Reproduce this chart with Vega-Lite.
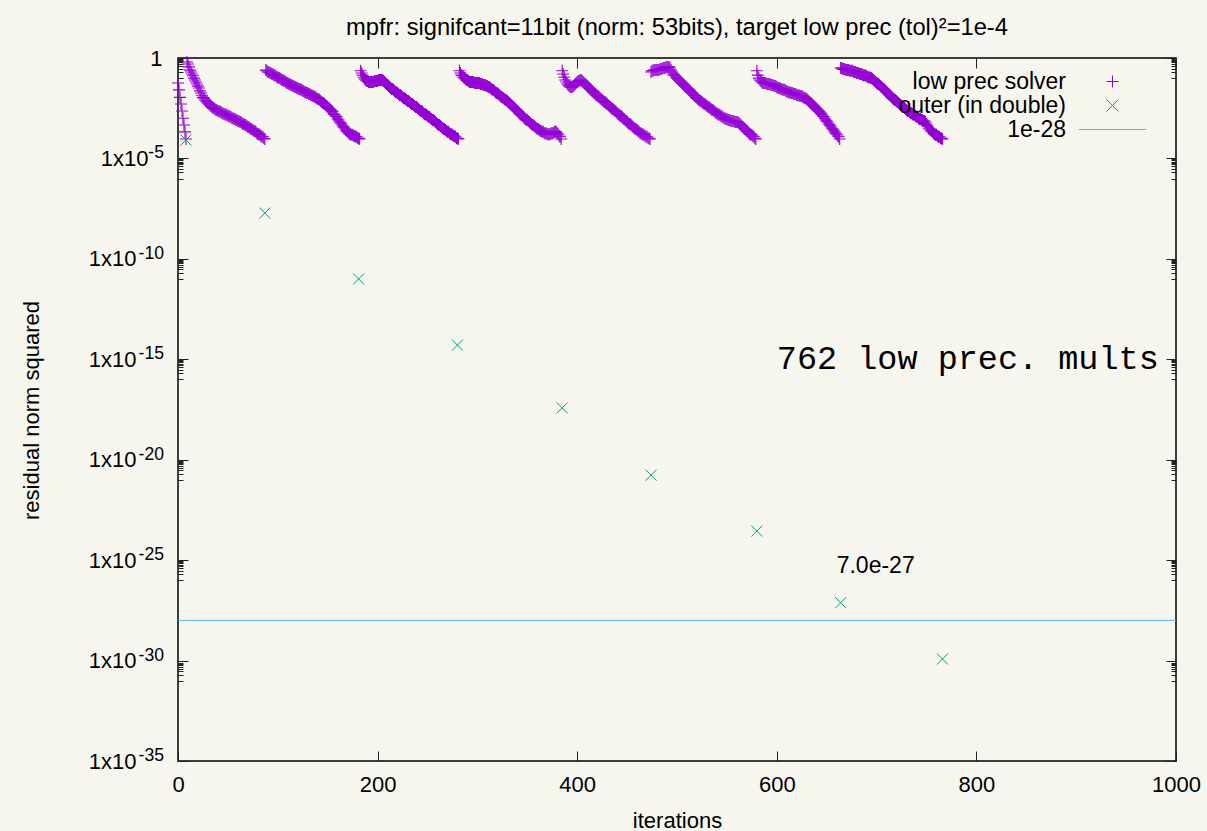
{
  "$schema": "https://vega.github.io/schema/vega-lite/v6.json",
  "autosize": {"type": "none"},
  "width": 998,
  "height": 703,
  "padding": {"left": 178, "top": 58, "right": 31, "bottom": 70},
  "background": "#f7f6ee",
  "config": {
    "view": {"stroke": "#000000", "strokeWidth": 1.5},
    "font": "Liberation Sans",
    "axis": {
      "grid": false,
      "domain": false,
      "labelFont": "Liberation Sans",
      "labelColor": "#000000",
      "labelFontSize": 22,
      "tickColor": "#222222",
      "tickWidth": 1,
      "titleFont": "Liberation Sans",
      "titleFontWeight": "normal",
      "titleFontSize": 22,
      "titleColor": "#000000"
    }
  },
  "title": {
    "text": "mpfr: signifcant=11bit (norm: 53bits), target low prec (tol)²=1e-4",
    "frame": "group",
    "anchor": "middle",
    "baseline": "alphabetic",
    "offset": -12,
    "fontSize": 23.7,
    "fontWeight": "normal",
    "font": "Liberation Sans",
    "color": "#000000"
  },
  "datasets": {
    "inner": [
      {"i":0,"r":0.057},{"i":1,"r":0.026},{"i":2,"r":0.011},{"i":3,"r":0.0051},{"i":4,"r":0.0023},{"i":5,"r":0.001},{"i":6,"r":0.00046},{"i":7,"r":0.00021},{"i":8,"r":9.3e-5},
      {"i":9,"r":0.63},{"i":10,"r":0.5},{"i":11,"r":0.36},{"i":12,"r":0.25},{"i":13,"r":0.2},{"i":14,"r":0.16},{"i":15,"r":0.13},{"i":16,"r":0.1},{"i":17,"r":0.08},{"i":18,"r":0.064},{"i":19,"r":0.051},{"i":20,"r":0.04},{"i":21,"r":0.032},{"i":22,"r":0.023},{"i":23,"r":0.018},{"i":24,"r":0.014},{"i":25,"r":0.011},{"i":26,"r":0.01},{"i":27,"r":0.0081},{"i":28,"r":0.0072},{"i":29,"r":0.0065},{"i":30,"r":0.0058},{"i":31,"r":0.0051},{"i":32,"r":0.0046},{"i":33,"r":0.0041},{"i":34,"r":0.0036},{"i":35,"r":0.0032},{"i":36,"r":0.0032},{"i":37,"r":0.0029},{"i":38,"r":0.0026},{"i":39,"r":0.0026},{"i":40,"r":0.0023},{"i":41,"r":0.0023},{"i":42,"r":0.0021},{"i":43,"r":0.0021},{"i":44,"r":0.0018},{"i":45,"r":0.0018},{"i":46,"r":0.0016},{"i":47,"r":0.0016},{"i":48,"r":0.0015},{"i":49,"r":0.0015},{"i":50,"r":0.0013},{"i":51,"r":0.0013},{"i":52,"r":0.0012},{"i":53,"r":0.0012},{"i":54,"r":0.001},{"i":55,"r":0.001},{"i":56,"r":0.00092},{"i":57,"r":0.00092},{"i":58,"r":0.00082},{"i":59,"r":0.00082},{"i":60,"r":0.00073},{"i":61,"r":0.00073},{"i":62,"r":0.00065},{"i":63,"r":0.00065},{"i":64,"r":0.00058},{"i":65,"r":0.00052},{"i":66,"r":0.00052},{"i":67,"r":0.00046},{"i":68,"r":0.00046},{"i":69,"r":0.00041},{"i":70,"r":0.00037},{"i":71,"r":0.00037},{"i":72,"r":0.00033},{"i":73,"r":0.00029},{"i":74,"r":0.00029},{"i":75,"r":0.00026},{"i":76,"r":0.00023},{"i":77,"r":0.00023},{"i":78,"r":0.00021},{"i":79,"r":0.00018},{"i":80,"r":0.00016},{"i":81,"r":0.00016},{"i":82,"r":0.00015},{"i":83,"r":0.00013},{"i":84,"r":0.00012},{"i":85,"r":0.00012},{"i":86,"r":0.0001},{"i":87,"r":9.3e-5},
      {"i":88,"r":0.25},{"i":89,"r":0.23},{"i":90,"r":0.2},{"i":91,"r":0.2},{"i":92,"r":0.18},{"i":93,"r":0.18},{"i":94,"r":0.16},{"i":95,"r":0.16},{"i":96,"r":0.14},{"i":97,"r":0.14},{"i":98,"r":0.13},{"i":99,"r":0.11},{"i":100,"r":0.11},{"i":101,"r":0.1},{"i":102,"r":0.1},{"i":103,"r":0.09},{"i":104,"r":0.08},{"i":105,"r":0.08},{"i":106,"r":0.072},{"i":107,"r":0.072},{"i":108,"r":0.064},{"i":109,"r":0.057},{"i":110,"r":0.057},{"i":111,"r":0.051},{"i":112,"r":0.051},{"i":113,"r":0.045},{"i":114,"r":0.045},{"i":115,"r":0.04},{"i":116,"r":0.04},{"i":117,"r":0.036},{"i":118,"r":0.036},{"i":119,"r":0.032},{"i":120,"r":0.032},{"i":121,"r":0.029},{"i":122,"r":0.029},{"i":123,"r":0.026},{"i":124,"r":0.026},{"i":125,"r":0.023},{"i":126,"r":0.023},{"i":127,"r":0.02},{"i":128,"r":0.02},{"i":129,"r":0.018},{"i":130,"r":0.018},{"i":131,"r":0.016},{"i":132,"r":0.016},{"i":133,"r":0.014},{"i":134,"r":0.014},{"i":135,"r":0.013},{"i":136,"r":0.013},{"i":137,"r":0.011},{"i":138,"r":0.011},{"i":139,"r":0.01},{"i":140,"r":0.0091},{"i":141,"r":0.0091},{"i":142,"r":0.0081},{"i":143,"r":0.0072},{"i":144,"r":0.0065},{"i":145,"r":0.0058},{"i":146,"r":0.0058},{"i":147,"r":0.0051},{"i":148,"r":0.0046},{"i":149,"r":0.0041},{"i":150,"r":0.0036},{"i":151,"r":0.0032},{"i":152,"r":0.0029},{"i":153,"r":0.0026},{"i":154,"r":0.0023},{"i":155,"r":0.0021},{"i":156,"r":0.0016},{"i":157,"r":0.0015},{"i":158,"r":0.0013},{"i":159,"r":0.0012},{"i":160,"r":0.00092},{"i":161,"r":0.00082},{"i":162,"r":0.00065},{"i":163,"r":0.00058},{"i":164,"r":0.00052},{"i":165,"r":0.00041},{"i":166,"r":0.00037},{"i":167,"r":0.00033},{"i":168,"r":0.00026},{"i":169,"r":0.00023},{"i":170,"r":0.00021},{"i":171,"r":0.00018},{"i":172,"r":0.00016},{"i":173,"r":0.00016},{"i":174,"r":0.00015},{"i":175,"r":0.00015},{"i":176,"r":0.00013},{"i":177,"r":0.00013},{"i":178,"r":0.00012},{"i":179,"r":0.00012},{"i":180,"r":0.0001},{"i":181,"r":0.0001},{"i":182,"r":9.3e-5},
      {"i":183,"r":0.23},{"i":184,"r":0.18},{"i":185,"r":0.14},{"i":186,"r":0.11},{"i":187,"r":0.09},{"i":188,"r":0.08},{"i":189,"r":0.072},{"i":190,"r":0.072},{"i":191,"r":0.064},{"i":192,"r":0.064},{"i":193,"r":0.064},{"i":194,"r":0.064},{"i":195,"r":0.064},{"i":196,"r":0.064},{"i":197,"r":0.072},{"i":198,"r":0.072},{"i":199,"r":0.072},{"i":200,"r":0.072},{"i":201,"r":0.08},{"i":202,"r":0.08},{"i":203,"r":0.08},{"i":204,"r":0.08},{"i":205,"r":0.08},{"i":206,"r":0.072},{"i":207,"r":0.064},{"i":208,"r":0.057},{"i":209,"r":0.051},{"i":210,"r":0.045},{"i":211,"r":0.04},{"i":212,"r":0.036},{"i":213,"r":0.032},{"i":214,"r":0.029},{"i":215,"r":0.029},{"i":216,"r":0.026},{"i":217,"r":0.023},{"i":218,"r":0.02},{"i":219,"r":0.02},{"i":220,"r":0.018},{"i":221,"r":0.016},{"i":222,"r":0.014},{"i":223,"r":0.014},{"i":224,"r":0.013},{"i":225,"r":0.011},{"i":226,"r":0.01},{"i":227,"r":0.01},{"i":228,"r":0.0091},{"i":229,"r":0.0081},{"i":230,"r":0.0072},{"i":231,"r":0.0072},{"i":232,"r":0.0065},{"i":233,"r":0.0058},{"i":234,"r":0.0051},{"i":235,"r":0.0051},{"i":236,"r":0.0046},{"i":237,"r":0.0041},{"i":238,"r":0.0036},{"i":239,"r":0.0036},{"i":240,"r":0.0032},{"i":241,"r":0.0029},{"i":242,"r":0.0026},{"i":243,"r":0.0023},{"i":244,"r":0.0023},{"i":245,"r":0.0021},{"i":246,"r":0.0018},{"i":247,"r":0.0016},{"i":248,"r":0.0016},{"i":249,"r":0.0015},{"i":250,"r":0.0013},{"i":251,"r":0.0012},{"i":252,"r":0.0012},{"i":253,"r":0.001},{"i":254,"r":0.00092},{"i":255,"r":0.00082},{"i":256,"r":0.00082},{"i":257,"r":0.00073},{"i":258,"r":0.00065},{"i":259,"r":0.00058},{"i":260,"r":0.00052},{"i":261,"r":0.00046},{"i":262,"r":0.00046},{"i":263,"r":0.00041},{"i":264,"r":0.00037},{"i":265,"r":0.00033},{"i":266,"r":0.00029},{"i":267,"r":0.00029},{"i":268,"r":0.00026},{"i":269,"r":0.00023},{"i":270,"r":0.00021},{"i":271,"r":0.00021},{"i":272,"r":0.00018},{"i":273,"r":0.00016},{"i":274,"r":0.00016},{"i":275,"r":0.00015},{"i":276,"r":0.00013},{"i":277,"r":0.00013},{"i":278,"r":0.00012},{"i":279,"r":0.0001},{"i":280,"r":0.0001},{"i":281,"r":9.3e-5},
      {"i":282,"r":0.23},{"i":283,"r":0.18},{"i":284,"r":0.14},{"i":285,"r":0.13},{"i":286,"r":0.11},{"i":287,"r":0.1},{"i":288,"r":0.09},{"i":289,"r":0.08},{"i":290,"r":0.08},{"i":291,"r":0.072},{"i":292,"r":0.064},{"i":293,"r":0.064},{"i":294,"r":0.064},{"i":295,"r":0.064},{"i":296,"r":0.064},{"i":297,"r":0.057},{"i":298,"r":0.057},{"i":299,"r":0.057},{"i":300,"r":0.057},{"i":301,"r":0.057},{"i":302,"r":0.057},{"i":303,"r":0.051},{"i":304,"r":0.051},{"i":305,"r":0.051},{"i":306,"r":0.045},{"i":307,"r":0.045},{"i":308,"r":0.045},{"i":309,"r":0.04},{"i":310,"r":0.04},{"i":311,"r":0.036},{"i":312,"r":0.036},{"i":313,"r":0.032},{"i":314,"r":0.029},{"i":315,"r":0.026},{"i":316,"r":0.026},{"i":317,"r":0.023},{"i":318,"r":0.02},{"i":319,"r":0.018},{"i":320,"r":0.018},{"i":321,"r":0.016},{"i":322,"r":0.014},{"i":323,"r":0.013},{"i":324,"r":0.011},{"i":325,"r":0.011},{"i":326,"r":0.01},{"i":327,"r":0.0091},{"i":328,"r":0.0081},{"i":329,"r":0.0081},{"i":330,"r":0.0072},{"i":331,"r":0.0065},{"i":332,"r":0.0058},{"i":333,"r":0.0051},{"i":334,"r":0.0046},{"i":335,"r":0.0041},{"i":336,"r":0.0036},{"i":337,"r":0.0032},{"i":338,"r":0.0029},{"i":339,"r":0.0026},{"i":340,"r":0.0023},{"i":341,"r":0.0021},{"i":342,"r":0.0018},{"i":343,"r":0.0016},{"i":344,"r":0.0015},{"i":345,"r":0.0013},{"i":346,"r":0.0012},{"i":347,"r":0.001},{"i":348,"r":0.00092},{"i":349,"r":0.00082},{"i":350,"r":0.00082},{"i":351,"r":0.00073},{"i":352,"r":0.00065},{"i":353,"r":0.00058},{"i":354,"r":0.00052},{"i":355,"r":0.00046},{"i":356,"r":0.00046},{"i":357,"r":0.00041},{"i":358,"r":0.00037},{"i":359,"r":0.00033},{"i":360,"r":0.00029},{"i":361,"r":0.00029},{"i":362,"r":0.00026},{"i":363,"r":0.00023},{"i":364,"r":0.00023},{"i":365,"r":0.00021},{"i":366,"r":0.00021},{"i":367,"r":0.00018},{"i":368,"r":0.00018},{"i":369,"r":0.00018},{"i":370,"r":0.00016},{"i":371,"r":0.00016},{"i":372,"r":0.00016},{"i":373,"r":0.00016},{"i":374,"r":0.00018},{"i":375,"r":0.00018},{"i":376,"r":0.00018},{"i":377,"r":0.00021},{"i":378,"r":0.00021},{"i":379,"r":0.00021},{"i":380,"r":0.00018},{"i":381,"r":0.00016},{"i":382,"r":0.00013},{"i":383,"r":0.00012},{"i":384,"r":9.3e-5},
      {"i":385,"r":0.23},{"i":386,"r":0.16},{"i":387,"r":0.11},{"i":388,"r":0.08},{"i":389,"r":0.064},{"i":390,"r":0.051},{"i":391,"r":0.045},{"i":392,"r":0.04},{"i":393,"r":0.036},{"i":394,"r":0.036},{"i":395,"r":0.036},{"i":396,"r":0.04},{"i":397,"r":0.045},{"i":398,"r":0.051},{"i":399,"r":0.057},{"i":400,"r":0.064},{"i":401,"r":0.072},{"i":402,"r":0.072},{"i":403,"r":0.08},{"i":404,"r":0.08},{"i":405,"r":0.072},{"i":406,"r":0.064},{"i":407,"r":0.057},{"i":408,"r":0.051},{"i":409,"r":0.045},{"i":410,"r":0.04},{"i":411,"r":0.036},{"i":412,"r":0.032},{"i":413,"r":0.029},{"i":414,"r":0.026},{"i":415,"r":0.023},{"i":416,"r":0.02},{"i":417,"r":0.018},{"i":418,"r":0.016},{"i":419,"r":0.014},{"i":420,"r":0.013},{"i":421,"r":0.013},{"i":422,"r":0.011},{"i":423,"r":0.01},{"i":424,"r":0.0091},{"i":425,"r":0.0081},{"i":426,"r":0.0072},{"i":427,"r":0.0065},{"i":428,"r":0.0065},{"i":429,"r":0.0058},{"i":430,"r":0.0051},{"i":431,"r":0.0046},{"i":432,"r":0.0041},{"i":433,"r":0.0036},{"i":434,"r":0.0032},{"i":435,"r":0.0029},{"i":436,"r":0.0029},{"i":437,"r":0.0026},{"i":438,"r":0.0023},{"i":439,"r":0.0021},{"i":440,"r":0.0018},{"i":441,"r":0.0016},{"i":442,"r":0.0015},{"i":443,"r":0.0013},{"i":444,"r":0.0013},{"i":445,"r":0.0012},{"i":446,"r":0.001},{"i":447,"r":0.00092},{"i":448,"r":0.00082},{"i":449,"r":0.00073},{"i":450,"r":0.00065},{"i":451,"r":0.00058},{"i":452,"r":0.00052},{"i":453,"r":0.00052},{"i":454,"r":0.00046},{"i":455,"r":0.00041},{"i":456,"r":0.00037},{"i":457,"r":0.00033},{"i":458,"r":0.00029},{"i":459,"r":0.00029},{"i":460,"r":0.00026},{"i":461,"r":0.00023},{"i":462,"r":0.00021},{"i":463,"r":0.00018},{"i":464,"r":0.00018},{"i":465,"r":0.00016},{"i":466,"r":0.00015},{"i":467,"r":0.00015},{"i":468,"r":0.00013},{"i":469,"r":0.00012},{"i":470,"r":0.00012},{"i":471,"r":0.0001},{"i":472,"r":0.0001},{"i":473,"r":9.3e-5},
      {"i":474,"r":0.2},{"i":475,"r":0.23},{"i":476,"r":0.23},{"i":477,"r":0.25},{"i":478,"r":0.25},{"i":479,"r":0.25},{"i":480,"r":0.25},{"i":481,"r":0.25},{"i":482,"r":0.25},{"i":483,"r":0.28},{"i":484,"r":0.28},{"i":485,"r":0.28},{"i":486,"r":0.32},{"i":487,"r":0.32},{"i":488,"r":0.32},{"i":489,"r":0.36},{"i":490,"r":0.36},{"i":491,"r":0.36},{"i":492,"r":0.36},{"i":493,"r":0.32},{"i":494,"r":0.25},{"i":495,"r":0.2},{"i":496,"r":0.16},{"i":497,"r":0.14},{"i":498,"r":0.13},{"i":499,"r":0.11},{"i":500,"r":0.1},{"i":501,"r":0.09},{"i":502,"r":0.08},{"i":503,"r":0.072},{"i":504,"r":0.064},{"i":505,"r":0.057},{"i":506,"r":0.051},{"i":507,"r":0.045},{"i":508,"r":0.04},{"i":509,"r":0.036},{"i":510,"r":0.032},{"i":511,"r":0.029},{"i":512,"r":0.026},{"i":513,"r":0.023},{"i":514,"r":0.02},{"i":515,"r":0.018},{"i":516,"r":0.016},{"i":517,"r":0.014},{"i":518,"r":0.013},{"i":519,"r":0.011},{"i":520,"r":0.01},{"i":521,"r":0.0091},{"i":522,"r":0.0081},{"i":523,"r":0.0072},{"i":524,"r":0.0072},{"i":525,"r":0.0065},{"i":526,"r":0.0058},{"i":527,"r":0.0051},{"i":528,"r":0.0051},{"i":529,"r":0.0046},{"i":530,"r":0.0041},{"i":531,"r":0.0036},{"i":532,"r":0.0036},{"i":533,"r":0.0032},{"i":534,"r":0.0029},{"i":535,"r":0.0026},{"i":536,"r":0.0026},{"i":537,"r":0.0023},{"i":538,"r":0.0021},{"i":539,"r":0.0018},{"i":540,"r":0.0018},{"i":541,"r":0.0016},{"i":542,"r":0.0015},{"i":543,"r":0.0015},{"i":544,"r":0.0013},{"i":545,"r":0.0012},{"i":546,"r":0.0012},{"i":547,"r":0.001},{"i":548,"r":0.001},{"i":549,"r":0.00092},{"i":550,"r":0.00092},{"i":551,"r":0.00082},{"i":552,"r":0.00082},{"i":553,"r":0.00082},{"i":554,"r":0.00073},{"i":555,"r":0.00073},{"i":556,"r":0.00073},{"i":557,"r":0.00073},{"i":558,"r":0.00065},{"i":559,"r":0.00065},{"i":560,"r":0.00065},{"i":561,"r":0.00065},{"i":562,"r":0.00058},{"i":563,"r":0.00052},{"i":564,"r":0.00046},{"i":565,"r":0.00041},{"i":566,"r":0.00037},{"i":567,"r":0.00033},{"i":568,"r":0.00029},{"i":569,"r":0.00026},{"i":570,"r":0.00023},{"i":571,"r":0.00021},{"i":572,"r":0.00018},{"i":573,"r":0.00016},{"i":574,"r":0.00015},{"i":575,"r":0.00015},{"i":576,"r":0.00013},{"i":577,"r":0.00012},{"i":578,"r":0.0001},{"i":579,"r":9.3e-5},
      {"i":580,"r":0.23},{"i":581,"r":0.14},{"i":582,"r":0.1},{"i":583,"r":0.08},{"i":584,"r":0.072},{"i":585,"r":0.064},{"i":586,"r":0.057},{"i":587,"r":0.057},{"i":588,"r":0.057},{"i":589,"r":0.057},{"i":590,"r":0.051},{"i":591,"r":0.051},{"i":592,"r":0.051},{"i":593,"r":0.051},{"i":594,"r":0.045},{"i":595,"r":0.045},{"i":596,"r":0.045},{"i":597,"r":0.04},{"i":598,"r":0.04},{"i":599,"r":0.04},{"i":600,"r":0.036},{"i":601,"r":0.032},{"i":602,"r":0.032},{"i":603,"r":0.032},{"i":604,"r":0.029},{"i":605,"r":0.029},{"i":606,"r":0.026},{"i":607,"r":0.026},{"i":608,"r":0.026},{"i":609,"r":0.023},{"i":610,"r":0.023},{"i":611,"r":0.02},{"i":612,"r":0.02},{"i":613,"r":0.02},{"i":614,"r":0.018},{"i":615,"r":0.018},{"i":616,"r":0.018},{"i":617,"r":0.016},{"i":618,"r":0.016},{"i":619,"r":0.016},{"i":620,"r":0.014},{"i":621,"r":0.014},{"i":622,"r":0.014},{"i":623,"r":0.013},{"i":624,"r":0.013},{"i":625,"r":0.013},{"i":626,"r":0.011},{"i":627,"r":0.011},{"i":628,"r":0.01},{"i":629,"r":0.01},{"i":630,"r":0.0091},{"i":631,"r":0.0081},{"i":632,"r":0.0072},{"i":633,"r":0.0065},{"i":634,"r":0.0058},{"i":635,"r":0.0051},{"i":636,"r":0.0046},{"i":637,"r":0.0041},{"i":638,"r":0.0036},{"i":639,"r":0.0032},{"i":640,"r":0.0029},{"i":641,"r":0.0026},{"i":642,"r":0.0023},{"i":643,"r":0.0021},{"i":644,"r":0.0018},{"i":645,"r":0.0016},{"i":646,"r":0.0013},{"i":647,"r":0.0012},{"i":648,"r":0.001},{"i":649,"r":0.00082},{"i":650,"r":0.00073},{"i":651,"r":0.00065},{"i":652,"r":0.00052},{"i":653,"r":0.00046},{"i":654,"r":0.00041},{"i":655,"r":0.00033},{"i":656,"r":0.00029},{"i":657,"r":0.00026},{"i":658,"r":0.00021},{"i":659,"r":0.00018},{"i":660,"r":0.00016},{"i":661,"r":0.00013},{"i":662,"r":0.00012},{"i":663,"r":9.3e-5},
      {"i":664,"r":0.32},{"i":665,"r":0.32},{"i":666,"r":0.28},{"i":667,"r":0.28},{"i":668,"r":0.28},{"i":669,"r":0.25},{"i":670,"r":0.25},{"i":671,"r":0.25},{"i":672,"r":0.25},{"i":673,"r":0.23},{"i":674,"r":0.23},{"i":675,"r":0.23},{"i":676,"r":0.23},{"i":677,"r":0.2},{"i":678,"r":0.2},{"i":679,"r":0.2},{"i":680,"r":0.18},{"i":681,"r":0.18},{"i":682,"r":0.18},{"i":683,"r":0.16},{"i":684,"r":0.16},{"i":685,"r":0.16},{"i":686,"r":0.14},{"i":687,"r":0.14},{"i":688,"r":0.14},{"i":689,"r":0.13},{"i":690,"r":0.13},{"i":691,"r":0.11},{"i":692,"r":0.11},{"i":693,"r":0.11},{"i":694,"r":0.1},{"i":695,"r":0.1},{"i":696,"r":0.09},{"i":697,"r":0.08},{"i":698,"r":0.072},{"i":699,"r":0.064},{"i":700,"r":0.057},{"i":701,"r":0.051},{"i":702,"r":0.051},{"i":703,"r":0.045},{"i":704,"r":0.04},{"i":705,"r":0.036},{"i":706,"r":0.032},{"i":707,"r":0.029},{"i":708,"r":0.026},{"i":709,"r":0.023},{"i":710,"r":0.02},{"i":711,"r":0.018},{"i":712,"r":0.016},{"i":713,"r":0.014},{"i":714,"r":0.013},{"i":715,"r":0.011},{"i":716,"r":0.01},{"i":717,"r":0.0091},{"i":718,"r":0.0081},{"i":719,"r":0.0081},{"i":720,"r":0.0072},{"i":721,"r":0.0065},{"i":722,"r":0.0058},{"i":723,"r":0.0051},{"i":724,"r":0.0046},{"i":725,"r":0.0041},{"i":726,"r":0.0036},{"i":727,"r":0.0036},{"i":728,"r":0.0032},{"i":729,"r":0.0029},{"i":730,"r":0.0026},{"i":731,"r":0.0023},{"i":732,"r":0.0023},{"i":733,"r":0.0021},{"i":734,"r":0.0018},{"i":735,"r":0.0018},{"i":736,"r":0.0016},{"i":737,"r":0.0015},{"i":738,"r":0.0015},{"i":739,"r":0.0013},{"i":740,"r":0.0012},{"i":741,"r":0.0012},{"i":742,"r":0.001},{"i":743,"r":0.00092},{"i":744,"r":0.00092},{"i":745,"r":0.00082},{"i":746,"r":0.00082},{"i":747,"r":0.00073},{"i":748,"r":0.00073},{"i":749,"r":0.00065},{"i":750,"r":0.00052},{"i":751,"r":0.00041},{"i":752,"r":0.00033},{"i":753,"r":0.00029},{"i":754,"r":0.00026},{"i":755,"r":0.00023},{"i":756,"r":0.00021},{"i":757,"r":0.00018},{"i":758,"r":0.00016},{"i":759,"r":0.00015},{"i":760,"r":0.00015},{"i":761,"r":0.00013},{"i":762,"r":0.00012},{"i":763,"r":0.00012},{"i":764,"r":0.0001},{"i":765,"r":0.0001},{"i":766,"r":9.3e-5}
    ],
    "outer": [
      {"i":8,"r":8.3e-5},{"i":87,"r":1.9e-8},{"i":181,"r":1.0e-11},{"i":280,"r":5.1e-15},{"i":385,"r":3.8e-18},{"i":474,"r":1.7e-21},{"i":580,"r":2.8e-24},{"i":664,"r":7.6e-28},{"i":766,"r":1.2e-30}
    ],
    "tol": [{"r":1e-28}],
    "exps": [
      {"r":1e-5,"e":"-5"},{"r":1e-10,"e":"-10"},{"r":1e-15,"e":"-15"},{"r":1e-20,"e":"-20"},{"r":1e-25,"e":"-25"},{"r":1e-30,"e":"-30"},{"r":1e-35,"e":"-35"}
    ],
    "mults": [{"i":600,"r":1e-15,"t":"762 low prec. mults"}],
    "note": [{"i":660,"r":5e-26,"t":"7.0e-27"}]
  },
  "resolve": {"axis": {"x": "independent", "y": "independent"}},
  "layer": [
    {
      "data": {"name": "inner"},
      "mark": {"type": "point", "filled": false, "size": 144, "strokeWidth": 1.1, "opacity": 1},
      "encoding": {
        "x": {
          "field": "i", "type": "quantitative",
          "scale": {"domain": [0, 1000], "nice": false, "zero": false},
          "axis": {
            "orient": "bottom",
            "values": [0, 200, 400, 600, 800, 1000],
            "format": "d",
            "tickSize": -10,
            "labelPadding": 23,
            "labelFlush": false,
            "title": "iterations",
            "titleX": 499,
            "titleY": 59,
            "titleBaseline": "middle",
            "titleAlign": "center"
          }
        },
        "y": {
          "field": "r", "type": "quantitative",
          "scale": {"type": "log", "domain": [1e-35, 1], "nice": false},
          "axis": {
            "orient": "left",
            "values": [1, 1e-5, 1e-10, 1e-15, 1e-20, 1e-25, 1e-30, 1e-35],
            "tickSize": -10,
            "labelExpr": "datum.value > 0.5 ? '1' : '1x10'",
            "labelPadding": {"condition": [{"test": "datum.value > 0.5", "value": 26}, {"test": "datum.value > 5e-6", "value": 40}], "value": 52},
            "labelAlign": "right",
            "labelBaseline": "middle",
            "labelFlush": false,
            "labelOverlap": false,
            "title": "residual norm squared",
            "titleX": -147,
            "titleY": 352,
            "titleAngle": -90,
            "titleBaseline": "middle",
            "titleAlign": "center"
          }
        },
        "color": {
          "datum": "low prec solver", "type": "nominal",
          "scale": {"domain": ["low prec solver", "outer (in double)", "1e-28"], "range": ["#9400d3", "#009e73", "#56b4e9"]},
          "legend": {"orient": "none", "legendX": 923, "legendY": 12, "title": null, "labelFont": "Liberation Sans", "labelFontSize": 23, "labelColor": "#000000", "labelAlign": "right", "labelOffset": -58, "symbolSize": 144, "symbolStrokeWidth": 1, "rowPadding": 0, "padding": 0, "labelLimit": 0}
        },
        "shape": {
          "datum": "low prec solver", "type": "nominal",
          "scale": {"domain": ["low prec solver", "outer (in double)", "1e-28"], "range": ["M-1,0L1,0M0,-1L0,1", "M-1,-1L1,1M-1,1L1,-1", "M-5.6,0L5.6,0"]},
          "legend": {"orient": "none", "legendX": 923, "legendY": 12, "title": null, "labelFont": "Liberation Sans", "labelFontSize": 23, "labelColor": "#000000", "labelAlign": "right", "labelOffset": -58, "symbolSize": 144, "symbolStrokeWidth": 1, "rowPadding": 0, "padding": 0, "labelLimit": 0}
        }
      }
    },
    {
      "data": {"name": "outer"},
      "mark": {"type": "point", "filled": false, "size": 121, "strokeWidth": 1, "opacity": 1},
      "encoding": {
        "x": {
          "field": "i", "type": "quantitative",
          "axis": {"orient": "top", "values": [0, 200, 400, 600, 800, 1000], "tickSize": -10, "labels": false, "title": null}
        },
        "y": {
          "field": "r", "type": "quantitative",
          "axis": {"orient": "right", "values": [1, 1e-5, 1e-10, 1e-15, 1e-20, 1e-25, 1e-30, 1e-35], "tickSize": -10, "labels": false, "title": null}
        },
        "color": {"datum": "outer (in double)", "type": "nominal"},
        "shape": {"datum": "outer (in double)", "type": "nominal"}
      }
    },
    {
      "data": {"name": "tol"},
      "mark": {"type": "rule", "strokeWidth": 1},
      "encoding": {
        "y": {
          "field": "r", "type": "quantitative",
          "axis": {
            "orient": "left",
            "values": [0.9, 0.8, 0.7, 0.6, 0.5, 0.4, 0.3, 0.2, 0.1, 9e-6, 8e-6, 7e-6, 6e-6, 5e-6, 4e-6, 3e-6, 2e-6, 1e-6, 9e-11, 8e-11, 7e-11, 6e-11, 5e-11, 4e-11, 3e-11, 2e-11, 1e-11, 9e-16, 8e-16, 7e-16, 6e-16, 5e-16, 4e-16, 3e-16, 2e-16, 1e-16, 9e-21, 8e-21, 7e-21, 6e-21, 5e-21, 4e-21, 3e-21, 2e-21, 1e-21, 9e-26, 8e-26, 7e-26, 6e-26, 5e-26, 4e-26, 3e-26, 2e-26, 1e-26, 9e-31, 8e-31, 7e-31, 6e-31, 5e-31, 4e-31, 3e-31, 2e-31, 1e-31],
            "tickSize": -5, "labels": false, "title": null
          }
        },
        "color": {"datum": "1e-28", "type": "nominal"}
      }
    },
    {
      "data": {"name": "exps"},
      "mark": {"type": "text", "align": "right", "baseline": "alphabetic", "font": "Liberation Sans", "fontSize": 17.6, "color": "#000000"},
      "encoding": {
        "x": {"datum": -14, "type": "quantitative", "axis": null},
        "y": {
          "field": "r", "type": "quantitative",
          "axis": {
            "orient": "right",
            "values": [0.9, 0.8, 0.7, 0.6, 0.5, 0.4, 0.3, 0.2, 0.1, 9e-6, 8e-6, 7e-6, 6e-6, 5e-6, 4e-6, 3e-6, 2e-6, 1e-6, 9e-11, 8e-11, 7e-11, 6e-11, 5e-11, 4e-11, 3e-11, 2e-11, 1e-11, 9e-16, 8e-16, 7e-16, 6e-16, 5e-16, 4e-16, 3e-16, 2e-16, 1e-16, 9e-21, 8e-21, 7e-21, 6e-21, 5e-21, 4e-21, 3e-21, 2e-21, 1e-21, 9e-26, 8e-26, 7e-26, 6e-26, 5e-26, 4e-26, 3e-26, 2e-26, 1e-26, 9e-31, 8e-31, 7e-31, 6e-31, 5e-31, 4e-31, 3e-31, 2e-31, 1e-31],
            "tickSize": -5, "labels": false, "title": null
          }
        },
        "text": {"field": "e", "type": "nominal"}
      }
    },
    {
      "data": {"name": "mults"},
      "mark": {"type": "text", "align": "left", "baseline": "middle", "font": "Liberation Mono", "fontSize": 33.5, "color": "#000000"},
      "encoding": {
        "x": {"field": "i", "type": "quantitative", "axis": null},
        "y": {"field": "r", "type": "quantitative", "axis": null},
        "text": {"field": "t", "type": "nominal"}
      }
    },
    {
      "data": {"name": "note"},
      "mark": {"type": "text", "align": "left", "baseline": "middle", "font": "Liberation Sans", "fontSize": 23, "color": "#000000"},
      "encoding": {
        "x": {"field": "i", "type": "quantitative", "axis": null},
        "y": {"field": "r", "type": "quantitative", "axis": null},
        "text": {"field": "t", "type": "nominal"}
      }
    }
  ]
}
